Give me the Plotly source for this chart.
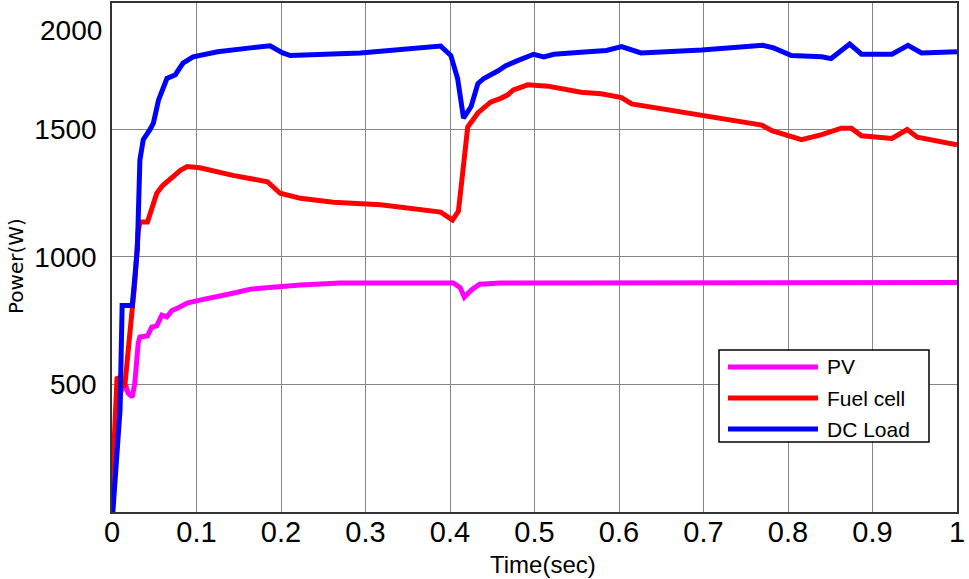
import plotly.graph_objects as go

# ---- data ----
t_load = [0.0, 0.001, 0.0095, 0.012, 0.024, 0.030, 0.033, 0.037, 0.045, 0.049, 0.055, 0.065, 0.075,
          0.084, 0.096, 0.125, 0.164, 0.187, 0.202, 0.211, 0.294, 0.389, 0.401, 0.409, 0.416, 0.425,
          0.433, 0.440, 0.457, 0.466, 0.480, 0.499, 0.511, 0.523, 0.555, 0.585, 0.603, 0.626, 0.698,
          0.770, 0.783, 0.804, 0.840, 0.851, 0.873, 0.887, 0.923, 0.942, 0.958, 1.0]
p_load = [0, 0, 400, 810, 810, 1030, 1380, 1460, 1500, 1525, 1615, 1700, 1715,
          1760, 1785, 1805, 1820, 1828, 1800, 1790, 1800, 1827, 1790, 1700, 1545, 1590,
          1680, 1700, 1730, 1750, 1770, 1795, 1785, 1795, 1803, 1810, 1825, 1800, 1812,
          1830, 1820, 1790, 1785, 1778, 1835, 1795, 1795, 1830, 1800, 1805]

t_fc = [0.0, 0.006, 0.015, 0.024, 0.027, 0.031, 0.033, 0.042, 0.045, 0.053, 0.060, 0.071, 0.081,
        0.089, 0.104, 0.143, 0.184, 0.199, 0.223, 0.262, 0.294, 0.318, 0.389, 0.403, 0.410, 0.418,
        0.421, 0.433, 0.448, 0.460, 0.468, 0.475, 0.492, 0.516, 0.540, 0.555, 0.579, 0.603, 0.615,
        0.769, 0.781, 0.804, 0.816, 0.840, 0.863, 0.875, 0.887, 0.923, 0.941, 0.953, 1.0]
p_fc = [80, 530, 490, 800, 900, 1100, 1137, 1137, 1170, 1250, 1280, 1310, 1340,
        1355, 1350, 1320, 1295, 1250, 1230, 1215, 1210, 1205, 1176, 1145, 1180, 1430,
        1510, 1565, 1607, 1622, 1635, 1655, 1675, 1670, 1655, 1646, 1640, 1625, 1600,
        1517, 1495, 1470, 1460, 1480, 1505, 1505, 1475, 1465, 1500, 1470, 1440]

t_pv = [0.0, 0.010, 0.016, 0.019, 0.024, 0.027, 0.031, 0.033, 0.042, 0.047, 0.053, 0.059, 0.065,
        0.071, 0.078, 0.089, 0.104, 0.124, 0.143, 0.164, 0.196, 0.223, 0.270, 0.404, 0.412, 0.417,
        0.425, 0.435, 0.460, 1.0]
p_pv = [50, 470, 500, 466, 451, 505, 662, 686, 690, 725, 730, 772, 765,
        790, 800, 819, 831, 843, 858, 874, 885, 890, 898, 898, 880, 843,
        870, 893, 898, 900]

x_ticks = [0, 0.1, 0.2, 0.3, 0.4, 0.5, 0.6, 0.7, 0.8, 0.9, 1]
x_labels = ["0", "0.1", "0.2", "0.3", "0.4", "0.5", "0.6", "0.7", "0.8", "0.9", "1"]
y_ticks = [500, 1000, 1500]
y_labels = ["500", "1000", "1500"]

names = ["PV", "Fuel cell", "DC Load"]
colors = ["#FF00FF", "#FF0000", "#0000FF"]

fig = go.Figure()
for t, p, n, c in [(t_pv, p_pv, names[0], colors[0]),
                   (t_fc, p_fc, names[1], colors[1]),
                   (t_load, p_load, names[2], colors[2])]:
    fig.add_trace(go.Scatter(x=t, y=p, mode="lines", name=n,
                             line=dict(color=c, width=5), showlegend=False))

W, H = 969, 579
L, R, T, B = 112, 12, 3, 67
pw, ph = W - L - R, H - T - B


def px(x):
    return (x - L) / pw


def py(y):
    return (H - B - y) / ph


fig.update_layout(
    width=W, height=H,
    margin=dict(l=L, r=R, t=T, b=B, autoexpand=False),
    paper_bgcolor="white", plot_bgcolor="white",
    xaxis=dict(range=[0, 1], tickvals=x_ticks, ticktext=x_labels, automargin=False,
               showgrid=True, gridcolor="#858585", gridwidth=1, zeroline=False,
               showline=True, linecolor="#333333", linewidth=1.5, mirror=True,
               ticks="", ticklabelstandoff=-7,
               tickfont=dict(family="Liberation Sans, Arial, sans-serif",
                             size=29, color="black")),
    yaxis=dict(range=[0, 1996], tickvals=y_ticks, ticktext=y_labels, automargin=False,
               showgrid=True, gridcolor="#858585", gridwidth=1, zeroline=False,
               showline=True, linecolor="#333333", linewidth=1.5, mirror=True,
               ticks="", ticklabelstandoff=8,
               tickfont=dict(family="Liberation Sans, Arial, sans-serif", size=28, color="black")),
)

annotations = [
    dict(text="2000", x=px(104), y=py(30), xref="paper", yref="paper",
         xanchor="right", yanchor="middle", showarrow=False,
         font=dict(family="Liberation Sans, Arial, sans-serif", size=28, color="black")),
    dict(text="Power(W)", x=px(16), y=py(266), xref="paper", yref="paper",
         xanchor="center", yanchor="middle", showarrow=False, textangle=-90,
         font=dict(family="DejaVu Sans, Verdana, sans-serif", size=20, color="black")),
    dict(text="Time(sec)", x=px(543), y=py(564), xref="paper", yref="paper",
         xanchor="center", yanchor="middle", showarrow=False,
         font=dict(family="Liberation Sans, Arial, sans-serif", size=24, color="black")),
]

shapes = [dict(type="rect", xref="paper", yref="paper",
               x0=px(719), x1=px(929), y0=py(442), y1=py(350),
               fillcolor="white", line=dict(color="black", width=1.5), layer="above")]
leg_y = [367, 398, 429]
for n, c, yy in zip(names, colors, leg_y):
    shapes.append(dict(type="line", xref="paper", yref="paper",
                       x0=px(728), x1=px(818), y0=py(yy), y1=py(yy),
                       line=dict(color=c, width=5), layer="above"))
    annotations.append(dict(text=n, x=px(825), y=py(yy), xref="paper", yref="paper",
                            xanchor="left", yanchor="middle", showarrow=False,
                            font=dict(family="Liberation Sans, Arial, sans-serif", size=21, color="black")))

fig.update_layout(shapes=shapes, annotations=annotations)
fig.write_html("out.html", config={"displayModeBar": False},
               post_script="document.body.style.margin='0';document.body.style.padding='0';")
